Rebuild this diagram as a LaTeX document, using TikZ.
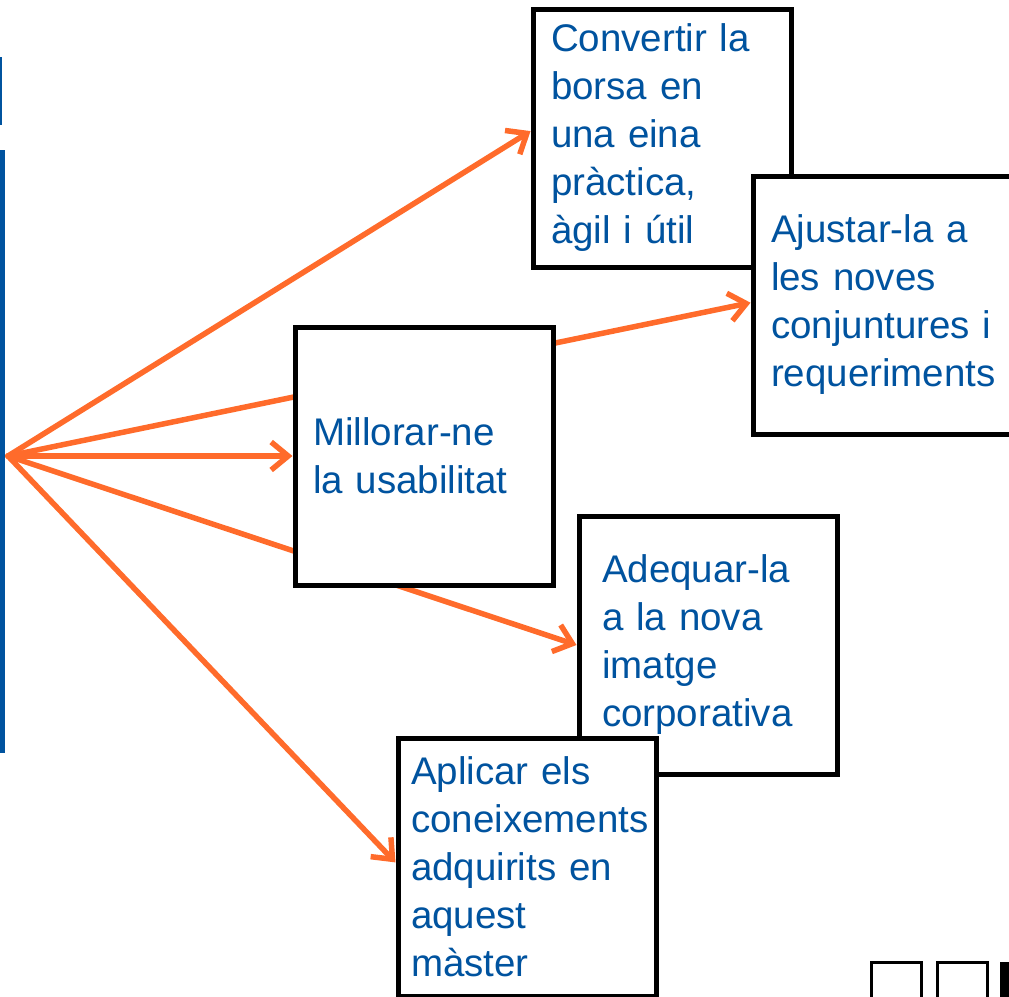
\documentclass[tikz,border=0pt]{standalone}
\usepackage{fontspec}
\setmainfont{Liberation Sans}
\usetikzlibrary{arrows.meta,backgrounds}
\definecolor{slideblue}{RGB}{0,83,159}
\definecolor{slideorange}{RGB}{255,107,43}
\newcommand{\boxfont}{\fontsize{38.5}{48}\selectfont\hyphenpenalty=10000\exhyphenpenalty=10000}

\begin{document}
\begin{tikzpicture}[
  x=1pt, y=-1pt,
  box/.style={rectangle, draw=black, fill=white, line width=5pt, minimum width=258pt, minimum height=258pt, text width=222pt, inner xsep=18pt, inner ysep=0pt, align=left, text=slideblue, font=\boxfont},
  arrow/.style={-{Straight Barb[length=17pt,width=28pt]}, line width=5.5pt, line cap=round, color=slideorange}
]
\clip (0,0) rectangle (1009,996);

% Slide edge
\fill[slideblue] (0,57) rectangle (1.5,125);
\fill[slideblue] (0,150) rectangle (5,753);

% Boxes
\node[box] (convertir) at (662,138) {Convertir la\\borsa en\\una eina\\pràctica,\\àgil i útil};
\node[box] (ajustar) at (882,305) {Ajustar-la a\\les noves\\conjuntures i\\requeriments};
\node[box] (millorar) at (424,456) {Millorar-ne\\la usabilitat};
\node[box, inner xsep=23pt, text width=212pt] (adequar) at (708,645) {Adequar-la\\a la nova\\imatge\\corporativa};
\node[box, inner xsep=13pt, text width=232pt] (aplicar) at (527,867) {Aplicar els\\coneixements\\adquirits en\\aquest\\màster};

% Arrows
\coordinate (hub) at (8,456);
\begin{scope}[on background layer]
\draw[arrow] (hub) -- (convertir.177);
\draw[arrow] (hub) -- (ajustar.179);
\draw[arrow] (hub) -- (millorar.west);
\draw[arrow] (hub) -- (adequar.west);
\draw[arrow] (hub) -- (aplicar.178);
\end{scope}

% Slide buttons
\draw[line width=3pt] (871,962) rectangle (921,1012);
\draw[line width=3pt] (937,962) rectangle (987,1012);
\fill[black] (1000,962) rectangle (1050,1012);

\end{tikzpicture}
\end{document}
